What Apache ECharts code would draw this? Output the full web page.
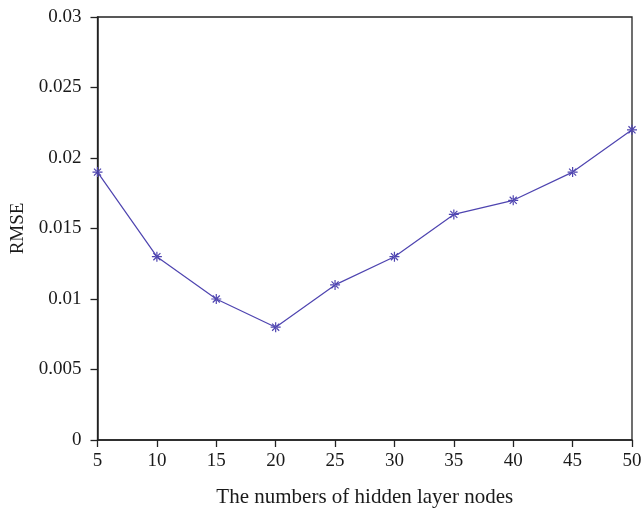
<!DOCTYPE html>
<html><head><meta charset="utf-8">
<script src="https://cdn.jsdelivr.net/npm/echarts@6/dist/echarts.min.js"></script>
<style>html,body{margin:0;padding:0;background:#fff}#c{width:642px;height:511px}</style>
</head><body><div id="c"></div>
<script>
const nodes = [5, 10, 15, 20, 25, 30, 35, 40, 45, 50];
const rmse = [0.019, 0.013, 0.010, 0.008, 0.011, 0.013, 0.016, 0.017, 0.019, 0.022];
const yTicks = [0, 0.005, 0.01, 0.015, 0.02, 0.025, 0.03];

const font = '"Liberation Serif", "DejaVu Serif", serif';
const asterisk = 'path://M-0.12,-1L0.12,-1L0.12,1L-0.12,1ZM-1,-0.12L1,-0.12L1,0.12L-1,0.12ZM-0.79,-0.62L0.62,0.79L0.79,0.62L-0.62,-0.79ZM-0.79,0.62L0.62,-0.79L0.79,-0.62L-0.62,0.79Z';

const chart = echarts.init(document.getElementById('c'), null, {renderer: 'canvas'});
chart.setOption({
  animation: false,
  backgroundColor: '#fff',
  grid: {left: 97.5, right: 10, top: 17, bottom: 71, show: true, borderColor: '#222', borderWidth: 1.3,
    containLabel: false, outerBoundsMode: 'none'},
  xAxis: {
    type: 'value', min: 5, max: 50, interval: 5,
    name: 'The numbers of hidden layer nodes', nameLocation: 'middle', nameGap: 47,
    nameTextStyle: {fontFamily: font, fontSize: 21, color: '#1a1a1a'},
    axisLine: {lineStyle: {color: '#222', width: 1.5}},
    axisTick: {show: true, length: 7, lineStyle: {color: '#222', width: 1.3}},
    axisLabel: {fontFamily: font, fontSize: 19, color: '#1a1a1a', margin: 12,
      formatter: v => String(v)},
    splitLine: {show: false}
  },
  yAxis: {
    type: 'value', min: 0, max: 0.03, interval: 0.005,
    name: 'RMSE', nameLocation: 'middle', nameGap: 70,
    nameTextStyle: {fontFamily: font, fontSize: 19, color: '#1a1a1a'},
    axisLine: {lineStyle: {color: '#222', width: 1.5}},
    axisTick: {show: true, length: 7, lineStyle: {color: '#222', width: 1.3}},
    axisLabel: {fontFamily: font, fontSize: 19, color: '#1a1a1a', margin: 16,
      formatter: v => { const t = yTicks.find(x => Math.abs(x - v) < 1e-9); return String(t === undefined ? v : t); }},
    splitLine: {show: false}
  },
  series: [{
    type: 'line',
    data: nodes.map((n, i) => [n, rmse[i]]),
    symbol: asterisk, symbolSize: 10, showSymbol: true,
    lineStyle: {color: '#4e44b0', width: 1.2},
    itemStyle: {color: '#4e44b0'},
    clip: false
  }]
});
</script></body></html>
